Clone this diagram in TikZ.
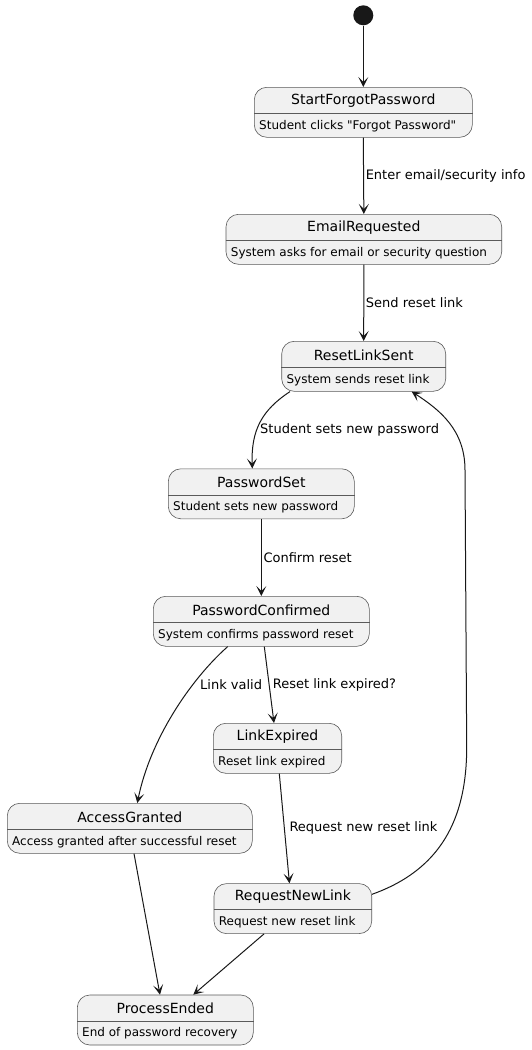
\documentclass[tikz,border=0pt]{standalone}
\usepackage{fontspec}
\setmainfont{DejaVu Sans}[Ligatures=TeXOff]
\usetikzlibrary{arrows.meta,calc}
\definecolor{stfill}{HTML}{F1F1F1}
\definecolor{stline}{HTML}{181818}
\definecolor{stborder}{HTML}{5A5A5A}
\tikzset{
  stbox/.style={draw=stborder, line width=0.6pt, fill=stfill, rounded corners=12.5pt,
    minimum height=50pt, inner sep=0pt, rectangle},
  divl/.style={draw=stborder, line width=0.6pt},
  sttitle/.style={inner sep=0pt, font=\fontsize{14}{16}\selectfont, text=black},
  stdesc/.style={inner sep=0pt, font=\fontsize{12}{14}\selectfont, text=black},
  lbl/.style={inner sep=0pt, font=\fontsize{13}{15}\selectfont, text=black},
  tr/.style={draw=stline, line width=1pt, -{Stealth[length=10pt,width=10pt,inset=5pt]}},
}
\newcommand\stnode[6]{%
  \node[stbox, minimum width=#4pt] (#1) at (#2,#3) {};
  \draw[divl] ([yshift=-1pt]#1.west) -- ([yshift=-1pt]#1.east);
  \node[sttitle] (#1-t) at ([yshift=11.5pt]#1.center) {#5};
  \node[stdesc, anchor=west] (#1-d) at ([xshift=5pt,yshift=-13.5pt]#1.west) {#6};
}
\begin{document}
\begin{tikzpicture}[x=1pt,y=-1pt]
\useasboundingbox (0,0) rectangle (531,1050);
\node[circle, fill=stline, minimum size=20pt, inner sep=0pt] (init) at (363.3,15.3) {};
\stnode{start}{363.3}{112.3}{218}{StartForgotPassword}{Student clicks "Forgot Password"}
\stnode{email}{363.85}{239.3}{275.7}{EmailRequested}{System asks for email or security question}
\stnode{reset}{363.7}{366.3}{164}{ResetLinkSent}{System sends reset link}
\stnode{pwset}{261.3}{493.8}{186}{PasswordSet}{Student sets new password}
\stnode{pwconf}{261.3}{621.3}{216}{PasswordConfirmed}{System confirms password reset}
\stnode{linkexp}{277.5}{748.3}{128.4}{LinkExpired}{Reset link expired}
\stnode{access}{129.8}{828.3}{245}{AccessGranted}{Access granted after successful reset}
\stnode{reqnew}{292.85}{908.6}{157.7}{RequestNewLink}{Request new reset link}
\stnode{ended}{165.3}{1020}{176}{ProcessEnded}{End of password recovery}

\draw[tr] (init) -- (start.north);
\draw[tr] (start.south) -- node[lbl, anchor=west, xshift=1.7pt] (l1) {Enter email/security info} (email.north);
\draw[tr] (email.south) -- node[lbl, anchor=west, xshift=1.7pt] (l2) {Send reset link} (reset.north);
\draw[tr] ([xshift=-73.7pt]reset.south) .. controls (262,410) and (251,430) .. ([xshift=-9pt]pwset.north);
\node[lbl, anchor=west] (l3) at (260,430) {Student sets new password};
\draw[tr] (pwset.south) -- node[lbl, anchor=west, xshift=1.7pt] (l4) {Confirm reset} (pwconf.north);
\draw[tr] ([xshift=-33.6pt]pwconf.south) .. controls (190,680) and (150,740) .. ([xshift=7.5pt]access.north);
\node[lbl, anchor=west] (l5) at (200,685) {Link valid};
\draw[tr] ([xshift=3pt]pwconf.south) -- ([xshift=-3.5pt]linkexp.north);
\node[lbl, anchor=west] (l6) at (272.7,685) {Reset link expired?};
\draw[tr] ([xshift=1.8pt]linkexp.south) -- ([xshift=-3.4pt]reqnew.north);
\node[lbl, anchor=west] (l7) at (289.3,828.3) {Request new reset link};
\draw[tr] ([xshift=4.2pt]access.south) -- ([xshift=-5.3pt]ended.north);
\draw[tr] ([xshift=-28.85pt]reqnew.south) -- ([xshift=28pt]ended.north);
\draw[tr] ([yshift=14.3pt]reqnew.east) .. controls (440,870) and (466.7,820) .. (466.7,747)
  -- (465,470) .. controls (465,430) and (440,410) .. ([xshift=48pt]reset.south);
\end{tikzpicture}
\end{document}
